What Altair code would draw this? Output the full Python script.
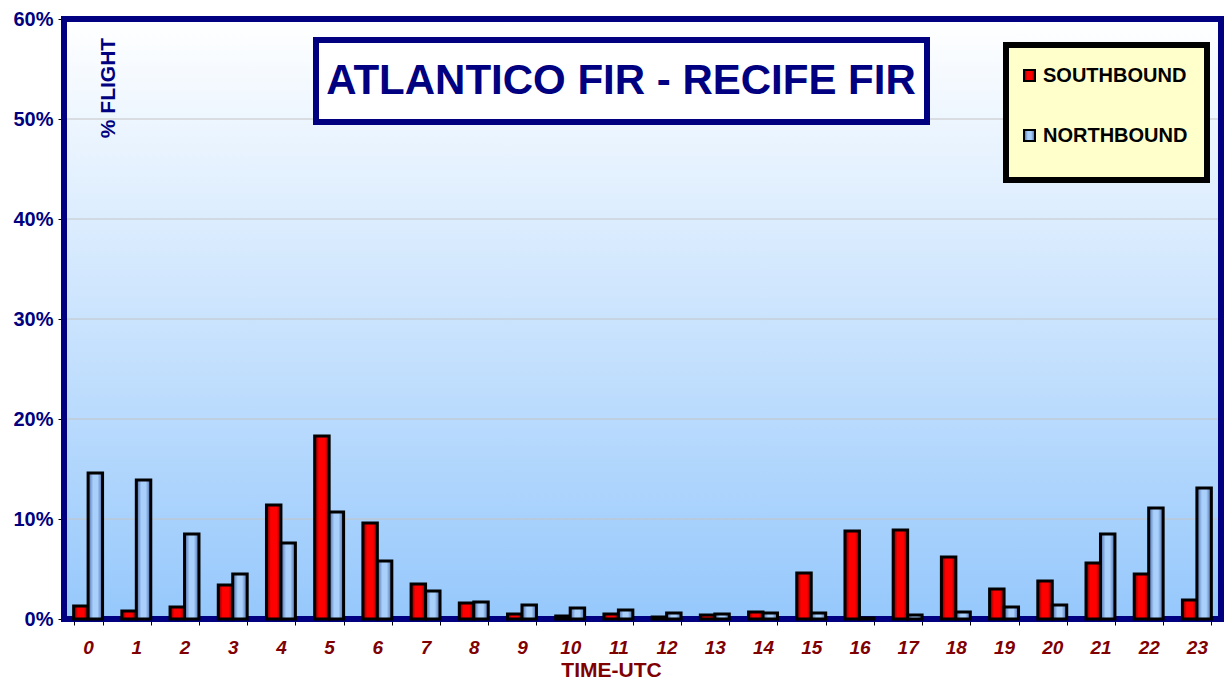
import altair as alt
import pandas as pd

hours = [str(h) for h in range(24)]
southbound = [1.3, 0.8, 1.2, 3.4, 11.4, 18.3, 9.6, 3.5, 1.6, 0.5, 0.3, 0.5,
              0.2, 0.4, 0.7, 4.6, 8.8, 8.9, 6.2, 3.0, 3.8, 5.6, 4.5, 1.9]
northbound = [14.6, 13.9, 8.5, 4.5, 7.6, 10.7, 5.8, 2.8, 1.7, 1.4, 1.1, 0.9,
              0.6, 0.5, 0.6, 0.6, 0.1, 0.4, 0.7, 1.2, 1.4, 8.5, 11.1, 13.1]
series_names = ["SOUTHBOUND", "NORTHBOUND"]
y_ticks = [0, 10, 20, 30, 40, 50, 60]
grid_values = [10, 20, 30, 40, 50]
title_text = "ATLANTICO FIR - RECIFE FIR"
y_title = "% FLIGHT"
x_title = "TIME-UTC"

rows = []
for h, s, n in zip(hours, southbound, northbound):
    rows.append({"hour": h, "series": series_names[0], "pct": s})
    rows.append({"hour": h, "series": series_names[1], "pct": n})
df = pd.DataFrame(rows)

W, H = 1157, 600
FONT = "Liberation Sans"
NAVY = "#000080"
DARKRED = "#800000"

red_grad = {"gradient": "linear", "x1": 0, "y1": 0, "x2": 1, "y2": 0,
            "stops": [{"offset": 0, "color": "#700000"},
                      {"offset": 0.3, "color": "#ff0000"},
                      {"offset": 0.7, "color": "#ff0000"},
                      {"offset": 1, "color": "#800000"}]}
blue_grad = {"gradient": "linear", "x1": 0, "y1": 0, "x2": 1, "y2": 0,
             "stops": [{"offset": 0, "color": "#4866a6"},
                       {"offset": 0.35, "color": "#a8d0fb"},
                       {"offset": 0.65, "color": "#a8d0fb"},
                       {"offset": 1, "color": "#4866a6"}]}
bg_grad = {"gradient": "linear", "x1": 0, "y1": 0, "x2": 0, "y2": 1,
           "stops": [{"offset": 0, "color": "#ffffff"},
                     {"offset": 1, "color": "#96c8fc"}]}

one = pd.DataFrame({"k": [0]})
yscale = alt.Scale(domain=[0, 60], nice=False, zero=True)

y_axis = alt.Axis(values=y_ticks, labelExpr="datum.value + '%'",
                  labelFont=FONT, labelFontSize=20, labelFontWeight="bold",
                  labelColor=NAVY, tickColor="black", tickSize=6,
                  domain=False, grid=False, title=None, labelPadding=5)

background = alt.Chart(one).mark_rect(fill=bg_grad).encode(
    x=alt.value(0), x2=alt.value(W), y=alt.value(0), y2=alt.value(H))

grid = alt.Chart(pd.DataFrame({"pct": grid_values})).mark_rule(
    color="#c4c4c4", strokeWidth=1).encode(
    y=alt.Y("pct:Q", scale=yscale, axis=y_axis))

frame = alt.Chart(one).mark_rect(fillOpacity=0, stroke=NAVY, strokeWidth=6).encode(
    x=alt.value(0), x2=alt.value(W), y=alt.value(0), y2=alt.value(H))

x_enc = alt.X("hour:N", sort=hours,
              scale=alt.Scale(paddingInner=0.4, paddingOuter=0.2),
              axis=alt.Axis(labelFont=FONT, labelFontSize=19, labelFontWeight="bold",
                            labelFontStyle="italic", labelColor=DARKRED, labelAngle=0,
                            tickBand="extent", tickSize=6, tickColor="black",
                            domain=False, labelPadding=13,
                            title=x_title, titleFont=FONT, titleFontSize=21,
                            titleFontWeight="bold", titleColor=DARKRED,
                            titleX=547, titleY=57, titleAlign="center",
                            titleBaseline="alphabetic", titleAnchor="start"))
y_enc = alt.Y("pct:Q", scale=yscale, axis=y_axis)
xoff = alt.XOffset("series:N", sort=series_names,
                   scale=alt.Scale(domain=series_names, paddingInner=0, paddingOuter=0))

south_bars = alt.Chart(df).transform_filter(
    alt.datum.series == series_names[0]).mark_bar(
    fill=red_grad, stroke="black", strokeWidth=3).encode(x=x_enc, y=y_enc, xOffset=xoff)
north_bars = alt.Chart(df).transform_filter(
    alt.datum.series == series_names[1]).mark_bar(
    fill=blue_grad, stroke="black", strokeWidth=3).encode(x=x_enc, y=y_enc, xOffset=xoff)

title_box = alt.Chart(one).mark_rect(fill="white", stroke=NAVY, strokeWidth=6).encode(
    x=alt.value(252), x2=alt.value(863), y=alt.value(21), y2=alt.value(103))
title_mark = alt.Chart(one).mark_text(
    text=title_text, font=FONT, fontSize=42, fontWeight="bold", color=NAVY,
    align="center", baseline="middle").encode(x=alt.value(557), y=alt.value(62))

legend_box = alt.Chart(one).mark_rect(fill="#ffffcc", stroke="black", strokeWidth=6).encode(
    x=alt.value(942), x2=alt.value(1143), y=alt.value(26), y2=alt.value(161))
sw_red = alt.Chart(one).mark_rect(fill=red_grad, stroke="black", strokeWidth=2).encode(
    x=alt.value(960), x2=alt.value(971), y=alt.value(51), y2=alt.value(62))
sw_blue = alt.Chart(one).mark_rect(fill=blue_grad, stroke="black", strokeWidth=2).encode(
    x=alt.value(960), x2=alt.value(971), y=alt.value(111), y2=alt.value(122))
lt_south = alt.Chart(one).mark_text(
    text=series_names[0], font=FONT, fontSize=20, fontWeight="bold", color="black",
    align="left", baseline="middle").encode(x=alt.value(979), y=alt.value(57))
lt_north = alt.Chart(one).mark_text(
    text=series_names[1], font=FONT, fontSize=20, fontWeight="bold", color="black",
    align="left", baseline="middle").encode(x=alt.value(979), y=alt.value(117))

ytitle_mark = alt.Chart(one).mark_text(
    text=y_title, font=FONT, fontSize=21, fontWeight="bold", color=NAVY,
    angle=270, align="center", baseline="middle").encode(x=alt.value(45), y=alt.value(69))

chart = alt.layer(
    background, grid, frame, south_bars, north_bars,
    title_box, title_mark, legend_box, sw_red, sw_blue, lt_south, lt_north, ytitle_mark
).properties(
    width=W, height=H,
    padding={"left": 56, "top": 11, "right": 3, "bottom": 61},
    autosize=alt.AutoSizeParams(type="none"),
    background="white",
).configure_view(strokeWidth=0)

chart.save("out.html", embed_options={"renderer": "svg", "actions": False})
